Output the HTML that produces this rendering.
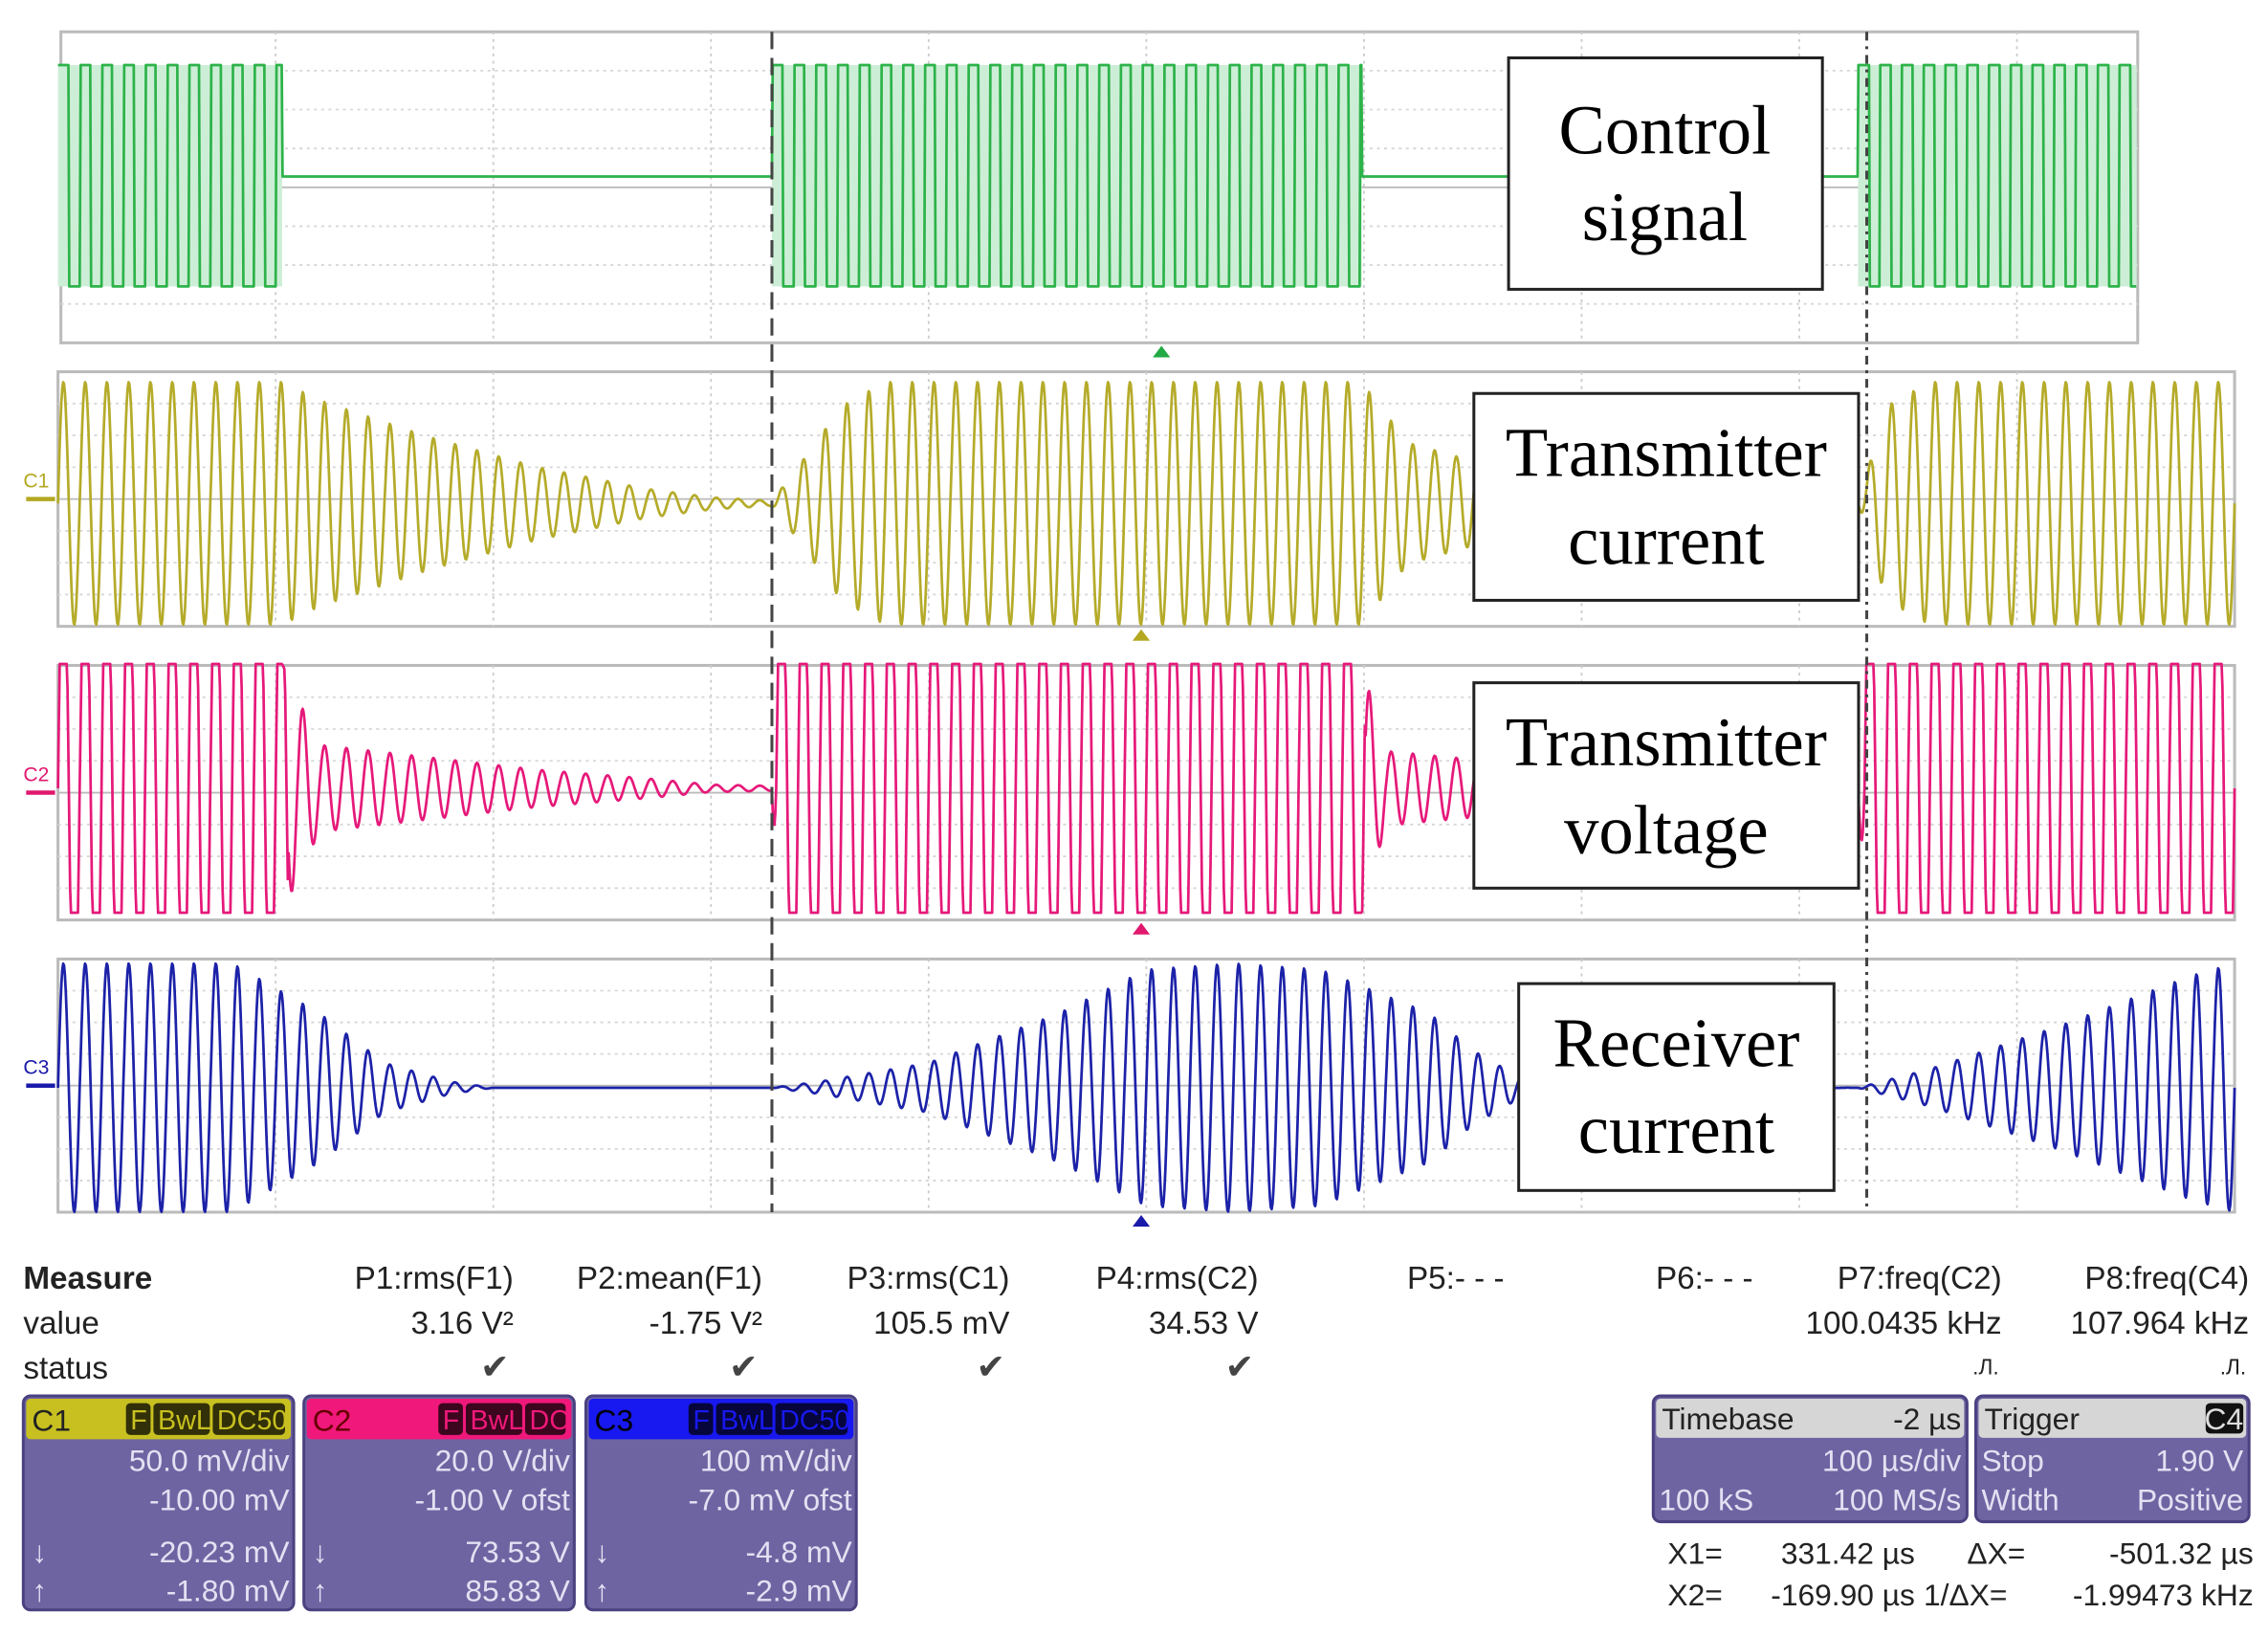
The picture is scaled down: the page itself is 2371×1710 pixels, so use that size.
<!DOCTYPE html>
<html><head><meta charset="utf-8"><style>
html,body{margin:0;padding:0;background:#fff;}
svg{display:block}
.t{font-family:"Liberation Sans",sans-serif;}
.s{font-family:"Liberation Serif",serif;}
</style></head><body>
<svg id="scope" width="2371" height="1710" viewBox="0 0 1568 1131" xmlns="http://www.w3.org/2000/svg">
<rect width="1568" height="1131" fill="#fff"/>
<g id="panels"></g>
<g id="labels">
 <rect x="1043" y="40" width="217" height="160" fill="#fff" stroke="#222" stroke-width="2"/>
 <text class="s" x="1151" y="106" font-size="48" text-anchor="middle">Control</text>
 <text class="s" x="1151" y="166" font-size="48" text-anchor="middle">signal</text>
 <rect x="1019" y="272" width="266" height="143" fill="#fff" stroke="#222" stroke-width="2"/>
 <text class="s" x="1152" y="329" font-size="48" text-anchor="middle">Transmitter</text>
 <text class="s" x="1152" y="390" font-size="48" text-anchor="middle">current</text>
 <rect x="1019" y="472" width="266" height="142" fill="#fff" stroke="#222" stroke-width="2"/>
 <text class="s" x="1152" y="529" font-size="48" text-anchor="middle">Transmitter</text>
 <text class="s" x="1152" y="590" font-size="48" text-anchor="middle">voltage</text>
 <rect x="1050" y="680" width="218" height="143" fill="#fff" stroke="#222" stroke-width="2"/>
 <text class="s" x="1159" y="737" font-size="48" text-anchor="middle">Receiver</text>
 <text class="s" x="1159" y="797" font-size="48" text-anchor="middle">current</text>
</g>
<g id="measure" class="t" font-size="22" fill="#222">
 <text x="16" y="891" font-weight="bold">Measure</text>
 <text x="16" y="922">value</text>
 <text x="16" y="953">status</text>
 <g text-anchor="end">
 <text x="355" y="891">P1:rms(F1)</text>
 <text x="527" y="891">P2:mean(F1)</text>
 <text x="698" y="891">P3:rms(C1)</text>
 <text x="870" y="891">P4:rms(C2)</text>
 <text x="1040" y="891">P5:- - -</text>
 <text x="1212" y="891">P6:- - -</text>
 <text x="1384" y="891">P7:freq(C2)</text>
 <text x="1555" y="891">P8:freq(C4)</text>
 <text x="355" y="922">3.16 V²</text>
 <text x="527" y="922">-1.75 V²</text>
 <text x="698" y="922">105.5 mV</text>
 <text x="870" y="922">34.53 V</text>
 <text x="1384" y="922">100.0435 kHz</text>
 <text x="1555" y="922">107.964 kHz</text>
 <text x="352" y="953" font-size="24" fill="#444">✔</text>
 <text x="524" y="953" font-size="24" fill="#444">✔</text>
 <text x="695" y="953" font-size="24" fill="#444">✔</text>
 <text x="867" y="953" font-size="24" fill="#444">✔</text>
 <text x="1382" y="950" font-size="15">.Л.</text>
 <text x="1553" y="950" font-size="15">.Л.</text>
 </g>
</g>
<g id="chanboxes" class="t" font-size="21"></g>
<g class="t" font-size="21" fill="#222">
 <text x="1153" y="1081">X1=</text>
 <text x="1324" y="1081" text-anchor="end">331.42 µs</text>
 <text x="1360" y="1081">ΔX=</text>
 <text x="1558" y="1081" text-anchor="end">-501.32 µs</text>
 <text x="1153" y="1110">X2=</text>
 <text x="1324" y="1110" text-anchor="end">-169.90 µs</text>
 <text x="1330" y="1110">1/ΔX=</text>
 <text x="1558" y="1110" text-anchor="end">-1.99473 kHz</text>
</g>
</svg>
<script>
// time axis (µs) and data
const timeDomain = [-500, 500];
const carrierPeriodUs = 10;
const controlOnSegments = [[-500, -397], [-172, 99], [327, 455]];
const currentEnvT = [-500,-397,-380,-330,-280,-230,-200,-172,-160,-140,-120,99,120,170,230,300,327,340,360,500];
const currentEnvA = [1,1,0.85,0.55,0.3,0.12,0.05,0.02,0.3,0.8,1,1,0.5,0.25,0.08,0.02,0,0.8,1,1];
const voltageEnvT = [-500,-397,-380,-330,-280,-230,-200,-172,-170,99,110,170,230,300,327,330,500];
const voltageEnvA = [1,1,0.35,0.25,0.15,0.08,0.03,0.02,1,1,0.3,0.2,0.1,0.03,0.02,1,1];
const receiverEnvT = [-500,-420,-380,-350,-320,-300,-172,-150,-100,-40,0,40,80,130,150,170,190,327,360,420,480,500];
const receiverEnvA = [1,1,0.6,0.2,0.05,0,0,0.05,0.2,0.6,0.95,1,0.95,0.6,0.3,0.1,0.02,0,0.15,0.5,0.9,1];
const cursorTimes = [-172, 331];

const NS = "http://www.w3.org/2000/svg";
const xScale = t => 40 + (t - timeDomain[0]) / (timeDomain[1] - timeDomain[0]) * 1505;
function interp(T, A, t){ if(t<=T[0])return A[0]; for(let i=1;i<T.length;i++){ if(t<=T[i]){const f=(t-T[i-1])/(T[i]-T[i-1]);return A[i-1]+f*(A[i]-A[i-1]);}} return A[A.length-1]; }
function mk(tag, attrs, parent){ const e=document.createElementNS(NS,tag); for(const k in attrs)e.setAttribute(k,attrs[k]); parent.appendChild(e); return e; }
const root = document.getElementById('panels');

function panel(name, x0, x1, y0, y1, color, label){
  const g = mk('g',{},root);
  
  
  mk('rect',{x:x0,y:y0,width:x1-x0,height:y1-y0,fill:'#fff',stroke:'#bbb','stroke-width':2},g);
  for(let i=1;i<10;i++){const x=40+i*150.5; if(x<x1) mk('line',{x1:x,x2:x,y1:y0,y2:y1,stroke:'#ccc','stroke-width':1.2,'stroke-dasharray':'2 3'},g);}
  for(let j=1;j<8;j++){const y=y0+j*(y1-y0)/8; mk('line',{x1:x0,x2:x1,y1:y,y2:y,stroke:j==4?'#bbb':'#d6d6d6','stroke-width':1.2,'stroke-dasharray':j==4?'':'2 3'},g);}
  if(label){ const tx=mk('text',{x:16,y:(y0+y1)/2-8,'font-size':14,fill:color,'font-family':'Liberation Sans'},g); tx.textContent=label;
    mk('line',{x1:18,x2:38,y1:(y0+y1)/2,y2:(y0+y1)/2,stroke:color,'stroke-width':3},g);}
  return g;
}
function trace(g, name, color, fn, tmax){
  let d=''; for(let t=timeDomain[0]; t<=(tmax||timeDomain[1]); t+=0.4){ const p=fn(t); d+=(d?'L':'M')+xScale(t).toFixed(1)+','+p.toFixed(1); }
  const p=mk('path',{d:d,fill:'none',stroke:color,'stroke-width':1.8,'stroke-linejoin':'round'},g);
  
  
}
// green control: shaded bands behind
const gG = panel('control-signal-panel',42,1478,22,237,'#22aa44',null);
controlOnSegments.forEach((s,i)=>{
  const r=mk('rect',{x:xScale(s[0]),y:45,width:xScale(s[1])-xScale(s[0]),height:153,fill:'#cdeed6'},gG);
  
  
});
trace(gG,'control-signal-trace','#2db34a',t=>{
  const seg = controlOnSegments.find(s=>t>=s[0]&&t<=s[1]);
  if(!seg) return 122;
  const ph=((t-seg[0])%carrierPeriodUs)/carrierPeriodUs;
  return ph<0.5?45:198;
}, 455);
// yellow
const gY = panel('transmitter-current-panel',40,1545,257,433,'#b3a820','C1');
trace(gY,'transmitter-current-trace','#b5ab2a',t=>348-84*interp(currentEnvT,currentEnvA,t)*Math.sin(2*Math.PI*t/carrierPeriodUs));
// pink
const gP = panel('transmitter-voltage-panel',40,1545,460,636,'#e0186e','C2');
trace(gP,'transmitter-voltage-trace','#e6197a',t=>{const a=interp(voltageEnvT,voltageEnvA,t);let v=Math.sin(2*Math.PI*t/carrierPeriodUs);
  if(a>0.9){v=Math.max(-1,Math.min(1,2.2*v));} return 545-86*a*v;});
// blue
const gB = panel('receiver-current-panel',40,1545,663,838,'#1a1aaa','C3');
trace(gB,'receiver-current-trace','#1c22a8',t=>752-86*interp(receiverEnvT,receiverEnvA,t)*Math.sin(2*Math.PI*t/carrierPeriodUs));
// cursors
cursorTimes.forEach((ct,i)=>{
  const l=mk('line',{x1:xScale(ct),x2:xScale(ct),y1:22,y2:838,stroke:'#444','stroke-width':2,'stroke-dasharray':i?'6 4 2 4':'12 6'},root);
  
  
});
// trigger markers
[[803,237,'#22aa44'],[789,433,'#b3a820'],[789,636,'#e0186e'],[789,838,'#1a1aaa']].forEach((m,i)=>{
  const p=mk('path',{d:`M${m[0]-6},${m[1]+10}L${m[0]+6},${m[1]+10}L${m[0]},${m[1]+2}Z`,fill:m[2]},root);
  
  
});

// channel boxes
const cb=document.getElementById('chanboxes');
const boxes=[
 {n:'c1',x:16,c:'#c8c020',tc:'#222',h:'C1',tags:['F','BwL','DC50'],l:['50.0 mV/div','-10.00 mV','-20.23 mV','-1.80 mV']},
 {n:'c2',x:210,c:'#f0187a',tc:'#600',h:'C2',tags:['F','BwL','DC'],l:['20.0 V/div','-1.00 V ofst','73.53 V','85.83 V']},
 {n:'c3',x:405,c:'#1818f0',tc:'#000',h:'C3',tags:['F','BwL','DC50'],l:['100 mV/div','-7.0 mV ofst','-4.8 mV','-2.9 mV']}];
boxes.forEach(b=>{
  const g=mk('g',{},cb);
  
  
  mk('rect',{x:b.x,y:965,width:187,height:148,rx:5,fill:'#6e64a2',stroke:'#4a4280','stroke-width':2},g);
  mk('rect',{x:b.x+2,y:967,width:183,height:28,rx:3,fill:b.c},g);
  const h=mk('text',{x:b.x+6,y:989,fill:b.tc},g); h.textContent=b.h;
  let tx=b.x+183; b.tags.slice().reverse().forEach(t=>{const w=t.length*11+6; tx-=w+2; mk('rect',{x:tx,y:970,width:w,height:22,rx:3,fill:'rgba(0,0,0,0.75)'},g);
    const e=mk('text',{x:tx+3,y:988,fill:b.c,'font-size':19},g); e.textContent=t;});
  const ys=[1017,1044,1080,1107];
  b.l.forEach((s,i)=>{const e=mk('text',{x:b.x+184,y:ys[i],fill:'#e4e0f2','text-anchor':'end'},g); e.textContent=s;});
  ['↓','↑'].forEach((a,i)=>{const e=mk('text',{x:b.x+6,y:ys[i+2],fill:'#e4e0f2'},g); e.textContent=a;});
});
[{n:'timebase-box',x:1143,w:217,h:['Timebase','-2 µs'],r1:['','100 µs/div'],r2:['100 kS','100 MS/s']},
 {n:'trigger-box',x:1366,w:189,h:['Trigger','C4'],r1:['Stop','1.90 V'],r2:['Width','Positive']}].forEach(b=>{
  const g=mk('g',{},cb);
  
  
  mk('rect',{x:b.x,y:965,width:b.w,height:87,rx:5,fill:'#6e64a2',stroke:'#4a4280','stroke-width':2},g);
  mk('rect',{x:b.x+2,y:967,width:b.w-4,height:27,rx:3,fill:'#d6d6d6'},g);
  let e=mk('text',{x:b.x+6,y:988,fill:'#222'},g); e.textContent=b.h[0];
  if(b.h[1]==='C4'){mk('rect',{x:b.x+b.w-30,y:970,width:26,height:21,rx:3,fill:'#111'},g);}
  e=mk('text',{x:b.x+b.w-4,y:988,fill:b.h[1]==='C4'?'#ddd':'#222','text-anchor':'end'},g); e.textContent=b.h[1];
  e=mk('text',{x:b.x+4,y:1017,fill:'#e4e0f2'},g); e.textContent=b.r1[0];
  e=mk('text',{x:b.x+b.w-4,y:1017,fill:'#e4e0f2','text-anchor':'end'},g); e.textContent=b.r1[1];
  e=mk('text',{x:b.x+4,y:1044,fill:'#e4e0f2'},g); e.textContent=b.r2[0];
  e=mk('text',{x:b.x+b.w-4,y:1044,fill:'#e4e0f2','text-anchor':'end'},g); e.textContent=b.r2[1];
});
</script>
</body></html>
